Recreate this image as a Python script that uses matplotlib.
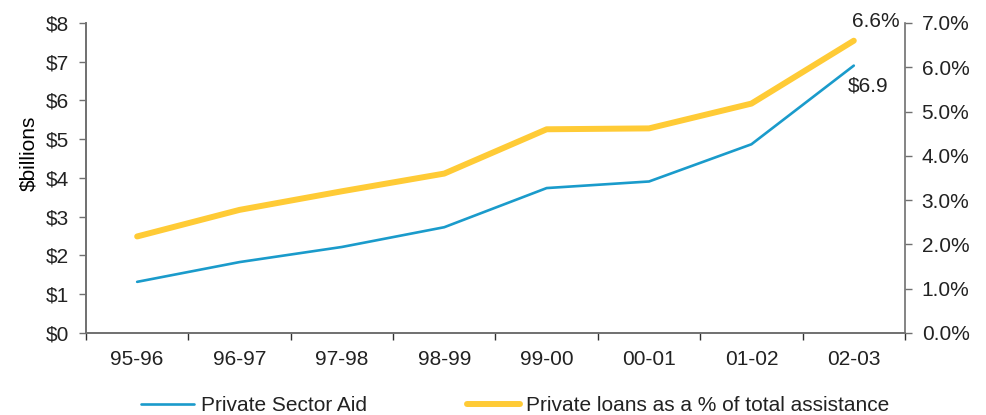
import matplotlib.pyplot as plt
from matplotlib.ticker import FuncFormatter

# -------------------------------------------------------------------
# Data
# -------------------------------------------------------------------

years = ["95-96", "96-97", "97-98", "98-99", "99-00", "00-01", "01-02", "02-03"]
private_aid = [1.32, 1.83, 2.22, 2.73, 3.74, 3.91, 4.87, 6.9]
private_pct = [2.18, 2.78, 3.2, 3.6, 4.6, 4.62, 5.18, 6.6]

BLUE = "#1a9bcb"
YELLOW = "#ffcb36"
GREY = "#707070"

plt.rcParams["font.family"] = ["Liberation Sans", "DejaVu Sans"]
plt.rcParams["font.size"] = 15
plt.rcParams["text.color"] = "#222222"
plt.rcParams["xtick.labelcolor"] = "#222222"
plt.rcParams["ytick.labelcolor"] = "#222222"

fig = plt.figure(figsize=(9.87, 4.15), dpi=100)
ax = fig.add_axes([0.0871, 0.1976, 0.8298, 0.747])
ax2 = ax.twinx()

x = list(range(len(years)))
line1, = ax.plot(x, private_aid, color=BLUE, lw=1.9, label="Private Sector Aid",
                 solid_capstyle="round", zorder=3)
line2, = ax2.plot(x, private_pct, color=YELLOW, lw=4.3,
                  label="Private loans as a % of total assistance",
                  solid_capstyle="round", zorder=2)

ax.set_xlim(-0.5, len(years) - 0.5)
ax.set_ylim(0, 8)
ax2.set_ylim(0, 7)

ax.set_yticks(range(0, 9))
ax.yaxis.set_major_formatter(FuncFormatter(lambda v, p: f"${v:.0f}"))
ax2.set_yticks(range(0, 8))
ax2.yaxis.set_major_formatter(FuncFormatter(lambda v, p: f"{v:.1f}%"))

ax.set_xticks(x)
ax.set_xticklabels(years)
ax.set_xticks([i - 0.5 for i in range(len(years) + 1)], minor=True)
ax.tick_params(axis="x", which="major", length=0, pad=12)
ax.tick_params(axis="x", which="minor", length=5, width=1, color="#303030")
ax.tick_params(axis="y", length=5, width=1, color=GREY, pad=7)
ax2.tick_params(axis="y", length=5, width=1, color=GREY, pad=7)

for a in (ax, ax2):
    a.spines["top"].set_visible(False)
    for s in ("left", "right", "bottom"):
        a.spines[s].set_color(GREY)
        a.spines[s].set_linewidth(1.2)
ax.spines["right"].set_visible(False)

ax.set_ylabel("$billions")
ax.yaxis.set_label_coords(-0.058, 0.58)

# end labels
ax2.annotate("6.6%", (x[-1], private_pct[-1]), xytext=(16, 14),
             textcoords="offset points", ha="center", va="center")
ax.annotate("$6.9", (x[-1], private_aid[-1]), xytext=(10, -14.5),
            textcoords="offset points", ha="center", va="center")

fig.legend([line1, line2], [line1.get_label(), line2.get_label()],
           loc="lower center", bbox_to_anchor=(0.522, -0.045), ncol=2,
           frameon=False, handlelength=2.55, handletextpad=0.3,
           columnspacing=4.8)

fig.savefig("out.png", dpi=100)
